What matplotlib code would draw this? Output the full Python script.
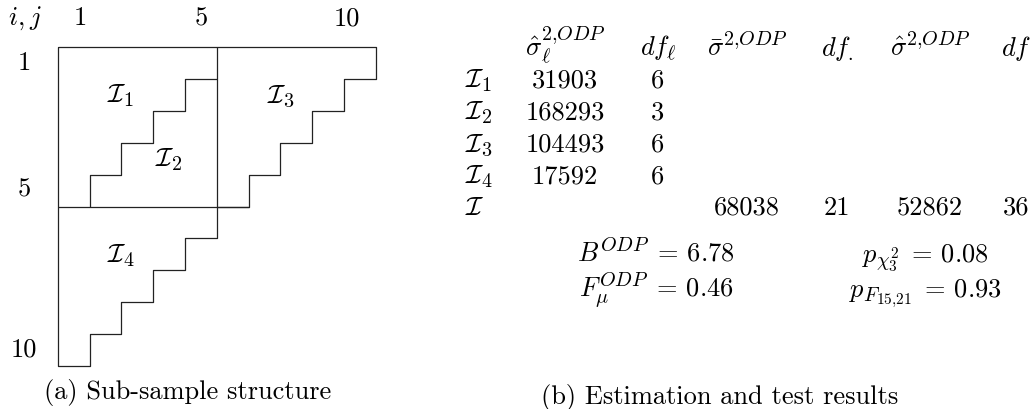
import matplotlib
matplotlib.use("Agg")
import matplotlib.pyplot as plt
import matplotlib._mathtext as mt

plt.rcParams["mathtext.fontset"] = "cm"
plt.rcParams["font.family"] = "cmr10"
plt.rcParams["axes.formatter.use_mathtext"] = True
# LaTeX-like script sizes (a bit bigger than mathtext's default)
mt.SHRINK_FACTOR = 0.76

W, H = 1032, 410
FS = 19

# structure of the run-off triangle
n = 10          # number of accident / development years
split = 5       # where the sub-samples are cut
col_ticks = ["1", "5", "10"]
row_ticks = ["1", "5", "10"]

# estimation results per sub-sample
groups = [r"$\mathcal{I}_1$", r"$\mathcal{I}_2$", r"$\mathcal{I}_3$", r"$\mathcal{I}_4$"]
sigma_l = [31903, 168293, 104493, 17592]
df_l = [6, 3, 6, 6]
sigma_bar = 68038
df_dot = 21
sigma_hat = 52862
df_all = 36
B_odp = 6.78
F_odp = 0.46
p_chi = 0.08
p_F = 0.93

fig = plt.figure(figsize=(W / 100, H / 100), dpi=100)


def px(x, y):
    # pixel position -> figure fraction
    return x / W, 1 - y / H


# ---- (a) sub-sample structure ----
ax = fig.add_axes([57.7 / W, (H - 366.7) / H, 318 / W, 318.4 / H])
ax.set_xlim(0, n)
ax.set_ylim(n, 0)
ax.axis("off")

lc = dict(color="#222222", lw=0.9, solid_capstyle="butt", clip_on=False)

# outline of the triangle
ox, oy = [0], [0]
for k in range(n):
    ox += [n - k, n - k]
    oy += [k, k + 1]
ox += [0, 0]
oy += [n, 0]
ax.plot(ox, oy, **lc)

# split lines
ax.plot([split, split], [0, split], **lc)
ax.plot([0, n - split + 1], [split, split], **lc)

# staircase between I1 and I2
sx, sy = [split], [1]
for k in range(1, split):
    sx += [split - k, split - k]
    sy += [k, k + 1]
ax.plot(sx, sy, **lc)

# region labels
ax.text(1.55, 1.69, r"$\mathcal{I}_1$", fontsize=FS, ha="left", va="baseline")
ax.text(3.06, 3.72, r"$\mathcal{I}_2$", fontsize=FS, ha="left", va="baseline")
ax.text(6.58, 1.69, r"$\mathcal{I}_3$", fontsize=FS, ha="left", va="baseline")
ax.text(1.55, 6.74, r"$\mathcal{I}_4$", fontsize=FS, ha="left", va="baseline")

# axis labels of the triangle
fig.text(*px(8, 25), r"$i,j$", fontsize=FS, ha="left", va="baseline")
for lab, x in zip(col_ticks, [80, 201, 347]):
    fig.text(*px(x, 25), lab, fontsize=FS, ha="center", va="baseline")
for lab, y in zip(row_ticks, [70, 197, 357]):
    fig.text(*px(24, y), lab, fontsize=FS, ha="center", va="baseline")

fig.text(*px(188, 399), "(a) Sub-sample structure", fontsize=FS,
         ha="center", va="baseline")

# ---- (b) estimation and test results ----
cols = [565, 658, 747, 837, 930, 1016]
rows = [88, 119.75, 151.5, 183.25, 215]
head_y = 56

headers = [r"$\hat{\sigma}^{2{,}ODP}_{\ell}$", r"$df_{\ell}$",
           r"$\bar{\sigma}^{2{,}ODP}$", r"$df_{.}$",
           r"$\hat{\sigma}^{2{,}ODP}$", r"$df$"]
for h, x in zip(headers, cols):
    fig.text(*px(x, head_y), h, fontsize=FS, ha="center", va="baseline")

for g, s, d, y in zip(groups, sigma_l, df_l, rows):
    fig.text(*px(465, y), g, fontsize=FS, ha="left", va="baseline")
    fig.text(*px(cols[0], y), str(s), fontsize=FS, ha="center", va="baseline")
    fig.text(*px(cols[1], y), str(d), fontsize=FS, ha="center", va="baseline")

fig.text(*px(465, rows[4]), r"$\mathcal{I}$", fontsize=FS, ha="left", va="baseline")
for v, x in zip([sigma_bar, df_dot, sigma_hat, df_all], cols[2:]):
    fig.text(*px(x, rows[4]), str(v), fontsize=FS, ha="center", va="baseline")

fig.text(*px(656, 262), r"$B^{ODP}\;=\,%.2f$" % B_odp, fontsize=FS,
         ha="center", va="baseline")
fig.text(*px(656, 297), r"$F^{ODP}_{\mu}\;=\,%.2f$" % F_odp, fontsize=FS,
         ha="center", va="baseline")
fig.text(*px(925, 262), r"$p_{\chi^2_3}\;=\,%.2f$" % p_chi, fontsize=FS,
         ha="center", va="baseline")
fig.text(*px(925, 297), r"$p_{F_{15{,}21}}\;=\,%.2f$" % p_F, fontsize=FS,
         ha="center", va="baseline")

fig.text(*px(720, 404), "(b) Estimation and test results", fontsize=FS,
         ha="center", va="baseline")

fig.savefig("out.png", dpi=100)
